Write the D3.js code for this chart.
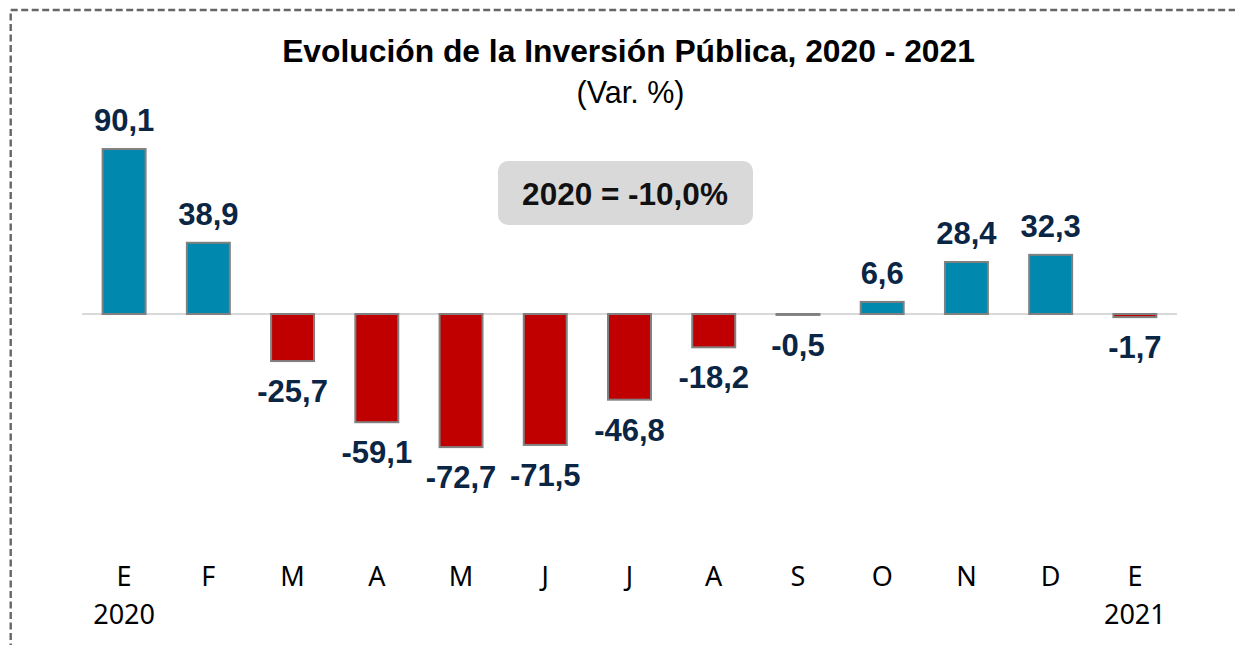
<!DOCTYPE html>
<html>
<head>
<meta charset="utf-8">
<script src="https://cdn.jsdelivr.net/npm/d3@7"></script>
<style>
  html, body { margin: 0; padding: 0; background: #fff; overflow: hidden; }
  #viz { width: 1235px; height: 645px; }
</style>
</head>
<body>
<div id="viz"></div>
<script>
// Monthly public investment, % change
const months = ["E", "F", "M", "A", "M", "J", "J", "A", "S", "O", "N", "D", "E"];
const years = ["2020", "", "", "", "", "", "", "", "", "", "", "", "2021"];
const values = [90.1, 38.9, -25.7, -59.1, -72.7, -71.5, -46.8, -18.2, -0.5, 6.6, 28.4, 32.3, -1.7];
const annotation = "2020 = -10,0%";

const width = 1235, height = 645;
// comma decimals, plain hyphen for negatives
const fmt = (v) => v.toFixed(1).replace(".", ",");

const svg = d3.select("#viz").append("svg")
  .attr("width", width)
  .attr("height", height);

// dashed frame (bottom/right run off the picture)
svg.append("rect")
  .attr("x", 10.7).attr("y", 10)
  .attr("width", 1300).attr("height", 800)
  .attr("fill", "none")
  .attr("stroke", "#666")
  .attr("stroke-width", 2.4)
  .attr("stroke-dasharray", "7,3.5");

const idx = d3.range(values.length);
const x = d3.scaleBand()
  .domain(idx)
  .range([82, 1177])
  .paddingInner(0.49)
  .paddingOuter(0.245);

const y = d3.scaleLinear()
  .domain([-80, 100])
  .range([314 + 80 * 1.831, 314 - 100 * 1.831]);

const arial = "'Liberation Sans', Arial, sans-serif";

// titles
svg.append("text")
  .attr("x", 628.5).attr("y", 62)
  .attr("text-anchor", "middle")
  .style("font-family", arial)
  .style("font-weight", "bold")
  .style("font-size", "31.8px")
  .text("Evolución de la Inversión Pública, 2020 - 2021");

svg.append("text")
  .attr("x", 630.5).attr("y", 103)
  .attr("text-anchor", "middle")
  .style("font-family", arial)
  .style("font-size", "30.5px")
  .text("(Var. %)");

// annotation box
const note = svg.append("g");
note.append("rect")
  .attr("x", 498).attr("y", 161)
  .attr("width", 255).attr("height", 64)
  .attr("rx", 10)
  .attr("fill", "#d9d9d9");
note.append("text")
  .attr("x", 625).attr("y", 205)
  .attr("text-anchor", "middle")
  .style("font-family", arial)
  .style("font-weight", "bold")
  .style("font-size", "31.5px")
  .attr("fill", "#111")
  .text(annotation);

// zero line
svg.append("line")
  .attr("x1", 82).attr("x2", 1177)
  .attr("y1", y(0)).attr("y2", y(0))
  .attr("stroke", "#d9d9d9")
  .attr("stroke-width", 2);

// bars
svg.selectAll("rect.bar")
  .data(values)
  .join("rect")
  .attr("class", "bar")
  .attr("x", (d, i) => x(i))
  .attr("width", x.bandwidth())
  .attr("y", (d) => Math.min(y(d), y(0)))
  .attr("height", (d) => Math.abs(y(d) - y(0)))
  .attr("fill", (d) => d >= 0 ? "#0088ae" : "#c00000")
  .attr("stroke", "#808080")
  .attr("stroke-width", 2);

// value labels
svg.selectAll("text.val")
  .data(values)
  .join("text")
  .attr("class", "val")
  .attr("x", (d, i) => x(i) + x.bandwidth() / 2)
  .attr("y", (d) => d >= 0 ? y(d) - 18 : y(d) + 41)
  .attr("text-anchor", "middle")
  .style("font-family", arial)
  .style("font-weight", "bold")
  .style("font-size", "31px")
  .attr("fill", "#0b2545")
  .text((d) => fmt(d));

// category labels
svg.selectAll("text.month")
  .data(months)
  .join("text")
  .attr("class", "month")
  .attr("x", (d, i) => x(i) + x.bandwidth() / 2)
  .attr("y", 586)
  .attr("text-anchor", "middle")
  .style("font-family", "'Noto Sans', 'Open Sans', sans-serif")
  .style("font-size", "27px")
  .attr("fill", "#000")
  .text((d) => d);

svg.selectAll("text.year")
  .data(years)
  .join("text")
  .attr("class", "year")
  .attr("x", (d, i) => x(i) + x.bandwidth() / 2)
  .attr("y", 624)
  .attr("text-anchor", "middle")
  .style("font-family", "'Noto Sans', 'Open Sans', sans-serif")
  .style("font-size", "27px")
  .attr("fill", "#000")
  .text((d) => d);
</script>
</body>
</html>
